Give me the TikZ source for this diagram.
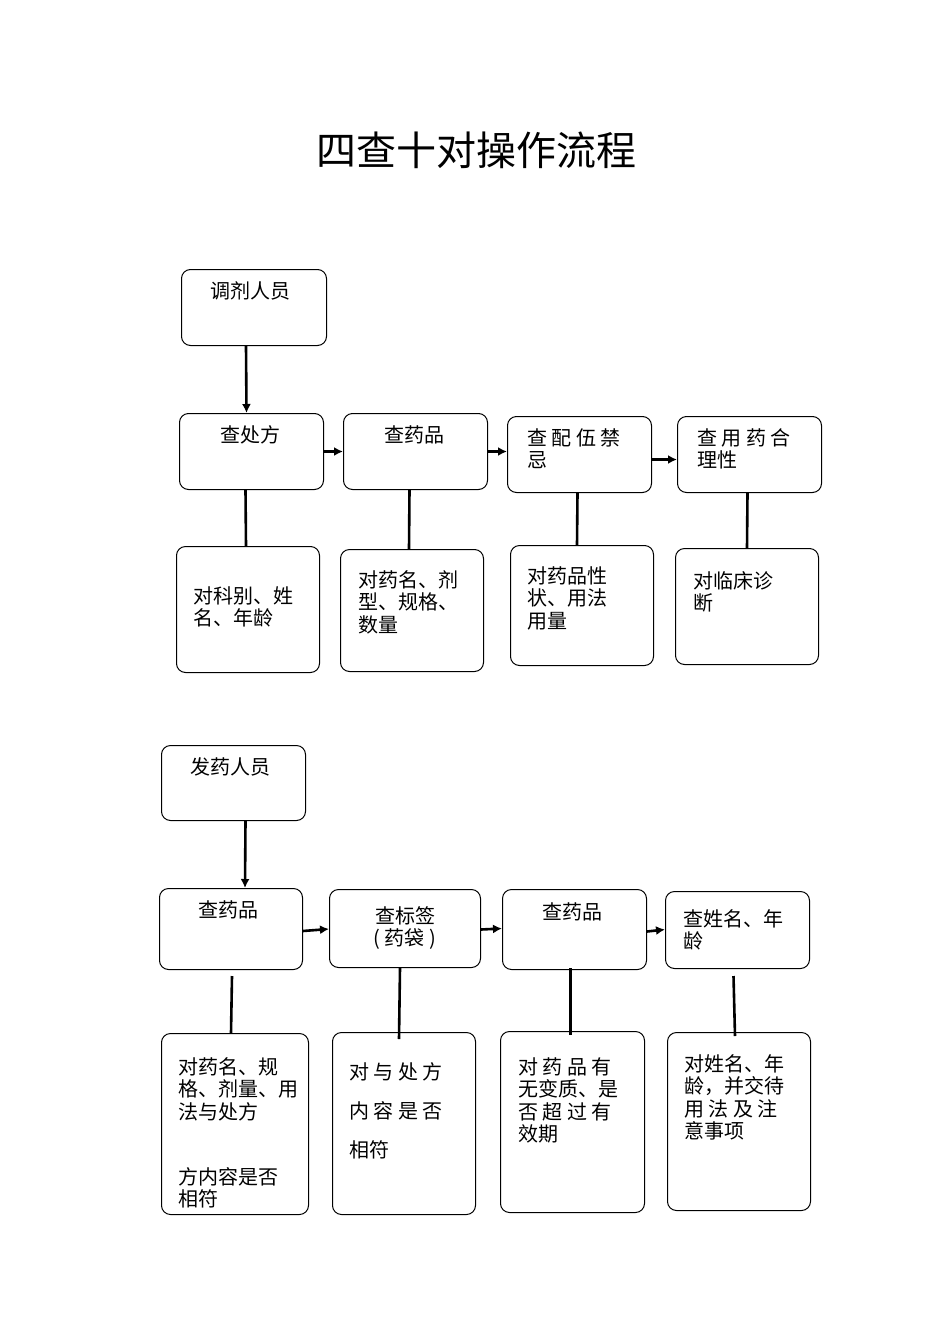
\documentclass[tikz,border=0pt]{standalone}
\usepackage{fontspec}
\setmainfont{Noto Sans CJK SC}
\usetikzlibrary{arrows.meta}
\begin{document}
\begin{tikzpicture}[x=1pt,y=-1pt,
  box/.style={draw,line width=1pt,rounded corners=9pt,anchor=north west,inner sep=0},
  txt/.style={anchor=north west,inner sep=0,align=left,font=\fontsize{20}{22.5}\selectfont},
  arr/.style={line width=2.6pt,-{Latex[length=9pt,width=9pt]}},
  ln/.style={line width=2.6pt}]
\useasboundingbox (0,0) rectangle (950,1344);
\node[font=\fontsize{40}{44}\selectfont] (title) at (476,150) {四查十对操作流程};
\newcommand{\bx}[5]{\node[box,minimum width=#4-#2,minimum height=#5-#3] (#1) at (#2,#3) {};}
% row 1
\bx{a0}{181}{269}{326}{345}
\bx{a1}{179}{413}{323}{489}
\bx{a2}{343}{413}{487}{489}
\bx{a3}{507}{416}{651}{492}
\bx{a4}{677}{416}{821}{492}
\bx{b1}{176}{546}{319}{672}
\bx{b2}{340}{549}{483}{671}
\bx{b3}{510}{545}{653}{665}
\bx{b4}{675}{548}{818}{664}
% row 2
\bx{c0}{161}{745}{305}{820}
\bx{c1}{159}{888}{302}{969}
\bx{c2}{329}{889}{480}{967}
\bx{c3}{502}{889}{646}{969}
\bx{c4}{665}{891}{809}{968}
\bx{d1}{161}{1033}{308}{1214}
\bx{d2}{332}{1032}{475}{1214}
\bx{d3}{500}{1031}{644}{1212}
\bx{d4}{667}{1032}{810}{1210}
% texts
\node[txt] (t0) at (210,281) {调剂人员};
\node[txt] (t1) at (220,425) {查处方};
\node[txt] (t2) at (384,425) {查药品};
\node[txt] (t3) at (527,428) {查 配 伍 禁\\忌};
\node[txt] (t4) at (697,428) {查 用 药 合\\理性};
\node[txt] (u1) at (193,586) {对科别、姓\\名、年龄};
\node[txt] (u2) at (358,570) {对药名、剂\\型、规格、\\数量};
\node[txt] (u3) at (527,566) {对药品性\\状、用法\\用量};
\node[txt] (u4) at (693,571) {对临床诊\\断};
\node[txt] (s0) at (190,757) {发药人员};
\node[txt] (s1) at (198,900) {查药品};
\node[txt,anchor=north,align=center] (s2) at (405,906) {查标签\\( 药袋 )};
\node[txt] (s3) at (542,902) {查药品};
\node[txt] (s4) at (683,909) {查姓名、年\\龄};
\node[txt] (v1) at (178,1057) {对药名、规\\格、剂量、用\\法与处方};
\node[txt] (v1b) at (178,1167) {方内容是否\\相符};
\node[txt,font=\fontsize{20}{39}\selectfont] (v2) at (349,1062) {对 与 处 方\\内 容 是 否\\相符};
\node[txt] (v3) at (518,1057) {对 药 品 有\\无变质、是\\否 超 过 有\\效期};
\node[txt] (v4) at (684,1054) {对姓名、年\\龄，并交待\\用 法 及 注\\意事项};
% connectors
\draw[arr] ([xshift=-8pt]a0.south) -- ([xshift=-5pt]a1.north);
\draw[arr] (a1.east) -- (a2.west);
\draw[arr] (a2.east) -- (a3.west|-a2.east);
\draw[arr] ([yshift=-5pt]a3.east) -- ([yshift=-5pt]a4.west);
\draw[ln] ([xshift=-6pt]a1.south) -- ([xshift=-2pt]b1.north);
\draw[ln] ([xshift=-6pt]a2.south) -- ([xshift=-3pt]b2.north);
\draw[ln] ([xshift=-2pt]a3.south) -- ([xshift=-5pt]b3.north);
\draw[ln] ([xshift=-2pt]a4.south) -- (b4.north);
\draw[arr] ([xshift=12pt]c0.south) -- ([xshift=14pt]c1.north);
\draw[arr] ([yshift=-2pt]c1.east) -- (c2.west|-c1.east);
\draw[arr] ([yshift=-1pt]c2.east) -- (c3.west|-c2.east);
\draw[arr] ([yshift=-2pt]c3.east) -- (c4.west|-c3.east);
\draw[ln] ([xshift=1pt,yshift=-6pt]c1.south) -- ([xshift=-4pt]d1.north);
\draw[ln] ([xshift=-5pt]c2.south) -- ([xshift=-5pt,yshift=-7pt]d2.north);
\draw[ln] ([xshift=-4pt,yshift=2pt]c3.south) -- ([xshift=-2pt,yshift=-4pt]d3.north);
\draw[ln] ([xshift=-4pt,yshift=-7pt]c4.south) -- ([xshift=-4pt,yshift=-4pt]d4.north);
\end{tikzpicture}
\end{document}
